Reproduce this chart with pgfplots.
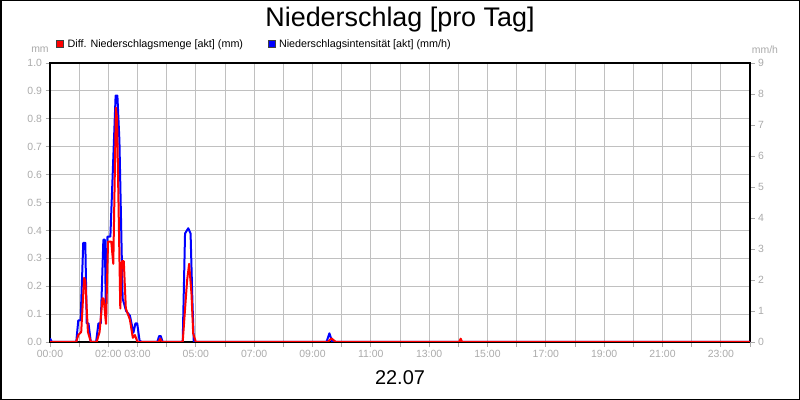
\documentclass[border=0pt]{standalone}
\usepackage{fontspec}
\setmainfont{Liberation Sans}
\usepackage{pgfplots}
\pgfplotsset{compat=1.18}
\definecolor{lbl}{RGB}{170,170,170}
\definecolor{gridc}{RGB}{192,192,192}

\pgfplotsset{
  base/.style={
    at={(50bp,58bp)}, anchor=south west, scale only axis,
    width=700bp, height=279bp, xmin=0, xmax=24,
    /pgf/number format/assume math mode=true,
    tick align=outside, major tick length=4.5bp,
    tick style={lbl, line width=0.8bp},
    ticklabel style={font=\fontsize{10.5}{12}\selectfont, text=lbl},
    axis line style={line width=1.2bp},
  },
  legsq/.style={legend image code/.code={%
    \draw[##1, draw=black!75, line width=0.5bp] (0bp,-3.5bp) rectangle (7bp,3.5bp);
    \path (9.5bp,0bp);}},
}

\begin{document}
\begin{tikzpicture}
\useasboundingbox (0,0) rectangle (800bp,400bp);
\draw[line width=1.5bp] (0.75bp,0.75bp) rectangle (799.25bp,399.25bp);

% left axis: grid, frame, time ticks
\begin{axis}[base,
  ymin=0, ymax=1,
  xtick={0,1,...,24},
  xticklabels={00:00,,02:00,03:00,,05:00,,07:00,,09:00,,11:00,,13:00,,15:00,,17:00,,19:00,,21:00,,23:00,},
  xtick pos=bottom, ytick pos=left,
  ytick={0,0.1,0.2,0.3,0.4,0.5,0.6,0.7,0.8,0.9,1.0},
  yticklabel style={/pgf/number format/.cd, fixed, fixed zerofill, precision=1},
  grid=major, major grid style={gridc, line width=0.9bp},
  title={Niederschlag [pro Tag]},
  title style={font=\fontsize{27}{30}\selectfont, at={(axis description cs:0.5,1.109)}, anchor=base},
  xlabel={22.07},
  xlabel style={font=\fontsize{20}{24}\selectfont, at={(axis description cs:0.5,-0.154)}, anchor=base},
  ylabel={mm},
  ylabel style={rotate=-90, font=\fontsize{10.5}{12}\selectfont, text=lbl, at={(axis description cs:-0.0143,1.0466)}, anchor=center},
]
\end{axis}

% right axis: intensity in mm/h
\begin{axis}[base,
  ymin=0, ymax=9,
  axis y line*=right, axis x line=none,
  ytick={0,1,...,9},
  ylabel={mm/h},
  ylabel style={rotate=-90, font=\fontsize{10.5}{12}\selectfont, text=lbl, at={(axis description cs:1.0214,1.0466)}, anchor=center},
]
\addplot[blue, line width=2bp, line join=round] coordinates {
(0,0.12) (0.06,0) (0.90,0) (0.97,0.7) (1.05,0.7) (1.14,3.2) (1.21,3.2) (1.26,0.6) (1.32,0.6) (1.40,0)
(1.58,0) (1.66,0.6) (1.74,0.6) (1.83,3.3) (1.88,3.3) (1.92,0.8) (1.97,3.4) (2.07,3.4) (2.25,7.95) (2.31,7.95)
(2.38,6.5) (2.49,1.4) (2.61,1.0) (2.74,0.85) (2.86,0.3) (2.93,0.6) (2.99,0.6) (3.07,0.05) (3.14,0)
(3.68,0) (3.74,0.19) (3.80,0.19) (3.86,0)
(4.55,0) (4.63,3.5) (4.74,3.67) (4.82,3.5) (4.88,1.4) (4.93,0)
(9.48,0) (9.58,0.28) (9.68,0)
(14.03,0) (14.08,0.04) (14.13,0) (24,0)
};
\end{axis}

% left scale again: amount in mm, on top, with legend
\begin{axis}[base,
  ymin=0, ymax=1, hide axis,
  legend columns=2,
  legend cell align=left,
  legend style={at={(axis description cs:0.0086,1.068)}, anchor=west, draw=none, fill=none,
    font=\fontsize{10.8}{12}\selectfont, inner sep=0pt, nodes={inner sep=1.5bp},
    /tikz/every even column/.append style={column sep=23bp}},
]
\addlegendimage{legsq, fill=red}
\addlegendentry{Diff. Niederschlagsmenge [akt] (mm)}
\addlegendimage{legsq, fill=blue}
\addlegendentry{Niederschlagsintensität [akt] (mm/h)}
\addplot[red, line width=2bp, line join=round, forget plot] coordinates {
(0,0) (0.90,0) (0.97,0.025) (1.07,0.036) (1.17,0.23) (1.21,0.22) (1.30,0.036) (1.40,0)
(1.60,0) (1.70,0.036) (1.80,0.157) (1.84,0.155) (1.92,0.065) (1.99,0.36) (2.10,0.36) (2.17,0.28)
(2.26,0.84) (2.30,0.80) (2.41,0.12) (2.47,0.29) (2.53,0.29) (2.60,0.12) (2.74,0.08) (2.84,0.015)
(2.91,0.025) (3.00,0)
(3.72,0) (3.78,0.012) (3.84,0)
(4.55,0) (4.70,0.22) (4.77,0.28) (4.85,0.175) (4.91,0.03) (5.0,0)
(9.52,0) (9.65,0.013) (9.8,0)
(14.03,0) (14.08,0.012) (14.13,0) (24,0)
};
\end{axis}
\end{tikzpicture}
\end{document}
